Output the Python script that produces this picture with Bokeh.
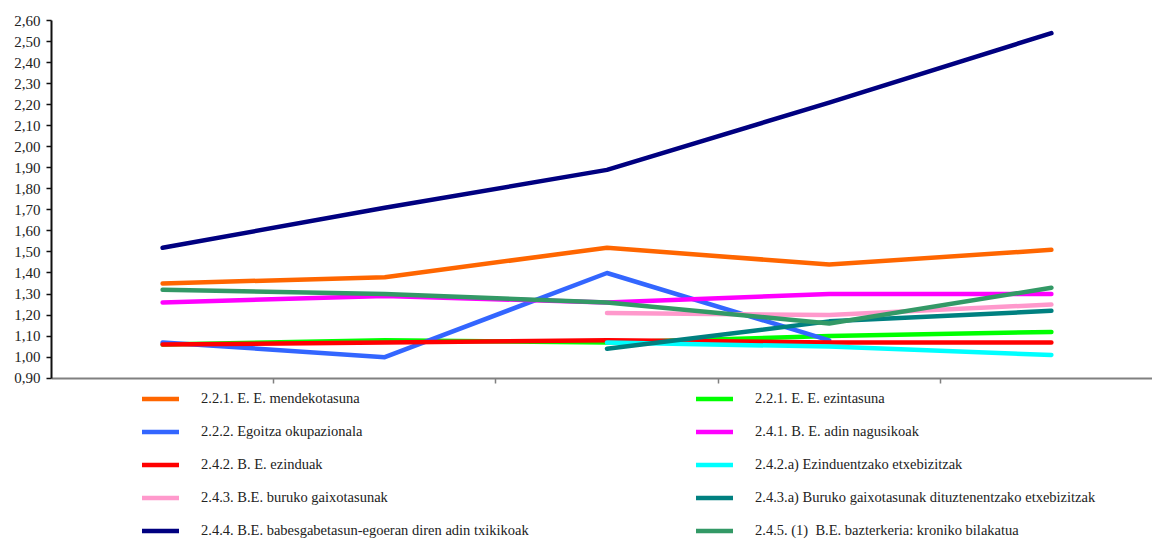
from bokeh.plotting import figure
from bokeh.models import Range1d, FixedTicker, Legend, LegendItem
from bokeh.embed import file_html
from bokeh.resources import INLINE

# ---- data ----
periods = [0, 1, 2, 3, 4]
nan = float("nan")

labels = [
    "2.2.1. E. E. mendekotasuna",
    "2.2.1. E. E. ezintasuna",
    "2.2.2. Egoitza okupazionala",
    "2.4.1. B. E. adin nagusikoak",
    "2.4.2. B. E. ezinduak",
    "2.4.2.a) Ezinduentzako etxebizitzak",
    "2.4.3. B.E. buruko gaixotasunak",
    "2.4.3.a) Buruko gaixotasunak dituztenentzako etxebizitzak",
    "2.4.4. B.E. babesgabetasun-egoeran diren adin txikikoak",
    "2.4.5. (1)  B.E. bazterkeria: kroniko bilakatua",
]
mendekotasuna = [1.35, 1.38, 1.52, 1.44, 1.51]
ezintasuna = [1.06, 1.08, 1.07, 1.10, 1.12]
egoitza_okupazionala = [1.07, 1.00, 1.40, 1.08, nan]
adin_nagusikoak = [1.26, 1.29, 1.26, 1.30, 1.30]
ezinduak = [1.06, 1.07, 1.08, 1.07, 1.07]
ezinduentzako_etxebizitzak = [nan, nan, 1.07, 1.05, 1.01]
buruko_gaixotasunak = [nan, nan, 1.21, 1.20, 1.25]
buruko_etxebizitzak = [nan, nan, 1.04, 1.17, 1.22]
adin_txikikoak = [1.52, 1.71, 1.89, 2.21, 2.54]
bazterkeria = [1.32, 1.30, 1.26, 1.16, 1.33]

series = [mendekotasuna, ezintasuna, egoitza_okupazionala, adin_nagusikoak, ezinduak,
          ezinduentzako_etxebizitzak, buruko_gaixotasunak, buruko_etxebizitzak,
          adin_txikikoak, bazterkeria]
colors = ["#FF6600", "#00FF00", "#3366FF", "#FF00FF", "#FF0000",
          "#00FFFF", "#FF99CC", "#008080", "#000080", "#339966"]

# legend order: left column then right column
legend_order = [0, 2, 4, 6, 8, 1, 3, 5, 7, 9]

y_ticks = [0.9, 1.0, 1.1, 1.2, 1.3, 1.4, 1.5, 1.6, 1.7, 1.8, 1.9, 2.0,
           2.1, 2.2, 2.3, 2.4, 2.5, 2.6]
y_tick_labels = ["0,90", "1,00", "1,10", "1,20", "1,30", "1,40", "1,50", "1,60",
                 "1,70", "1,80", "1,90", "2,00", "2,10", "2,20", "2,30", "2,40",
                 "2,50", "2,60"]
x_ticks = [0.5, 1.5, 2.5, 3.5]
y_min, y_max = 0.9, 2.6

FONT = "Liberation Serif"

# layout geometry (pixels)
W, H = 1152, 544
TOP, LEFT = 20, 51
PX_PER_UNIT = 210.4
FRAME_BOTTOM = 544
y_start = y_max - (FRAME_BOTTOM - TOP) / PX_PER_UNIT

p = figure(width=W, height=H, output_backend="svg", toolbar_location=None,
           x_range=Range1d(-0.5, 4.455), y_range=Range1d(y_start, y_max),
           min_border_left=LEFT, min_border_right=0, min_border_top=TOP,
           min_border_bottom=0)
p.outline_line_color = None
p.xgrid.visible = False
p.ygrid.visible = False
p.background_fill_color = "white"
p.border_fill_color = "white"

renderers = []
for vals, col in zip(series, colors):
    r = p.line(periods, vals, line_color=col, line_width=4.5,
               line_cap="round", line_join="round")
    renderers.append(r)

# y axis
ya = p.yaxis[0]
ya.ticker = FixedTicker(ticks=y_ticks)
ya.bounds = (y_min, y_max)
ya.major_label_overrides = {t: l for t, l in zip(y_ticks, y_tick_labels)}
ya.minor_tick_line_color = None
ya.major_tick_in = 0
ya.major_tick_out = 5
ya.major_tick_line_color = "#111111"
ya.major_tick_line_width = 1.5
ya.axis_line_color = "#111111"
ya.axis_line_width = 2
ya.major_label_standoff = 6
ya.major_label_text_font = FONT
ya.major_label_text_font_size = "15px"
ya.major_label_text_color = "#222222"

# x axis drawn at y = 0.90
xa = p.xaxis[0]
xa.fixed_location = y_min
xa.ticker = FixedTicker(ticks=x_ticks)
xa.major_label_overrides = {t: "" for t in x_ticks}
xa.major_label_text_font_size = "0px"
xa.major_label_standoff = 0
xa.minor_tick_line_color = None
xa.major_tick_in = 0
xa.major_tick_out = 5
xa.major_tick_line_color = "#808080"
xa.major_tick_line_width = 1.5
xa.axis_line_color = "#808080"
xa.axis_line_width = 2

ROW = 33
legend_top = 382
legend_h = 5 * ROW
items = [LegendItem(label=labels[i], renderers=[renderers[i]]) for i in legend_order]
legend = Legend(items=items, location=(142 - LEFT, FRAME_BOTTOM - legend_top - legend_h),
                orientation="vertical", ncols=2,
                border_line_color=None, background_fill_alpha=0,
                padding=0, margin=0, spacing=0,
                glyph_width=37, glyph_height=ROW, label_height=ROW,
                label_width=495, label_standoff=22,
                label_text_font=FONT, label_text_font_size="14.5px",
                label_text_color="#222222")
p.add_layout(legend, "center")

open("out.html", "w").write(file_html(p, INLINE))
